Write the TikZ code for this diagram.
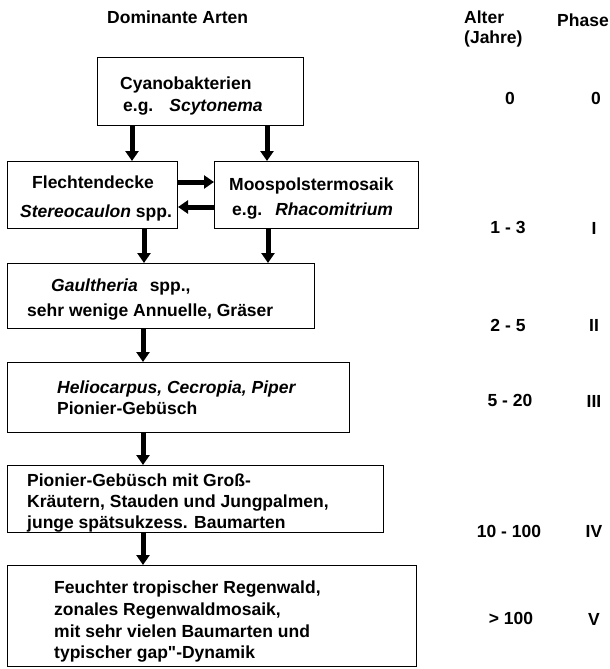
\documentclass[tikz,border=0pt]{standalone}
\usepackage{fontspec}
\setmainfont{Liberation Sans}
\setmonofont{Liberation Sans}
\usetikzlibrary{arrows.meta}
\begin{document}
\begin{tikzpicture}[x=1pt,y=-1pt,
  box/.style={draw=black,line width=1pt,rectangle,inner sep=0pt,anchor=north west},
  txt/.style={anchor=base west,inner sep=0pt,font=\fontsize{17.5}{21}\selectfont\bfseries},
  num/.style={anchor=base,inner sep=0pt,font=\fontsize{17.5}{21}\selectfont\bfseries},
  arr/.style={line width=5pt,-{Triangle[length=10pt,width=13pt]}},
]
\useasboundingbox[fill=white] (0,0) rectangle (610,669);

% boxes
\node[box,minimum width=206,minimum height=68]  (b1) at (97,57) {};
\node[box,minimum width=170,minimum height=67]  (b2) at (7,161) {};
\node[box,minimum width=204,minimum height=67]  (b3) at (214,161) {};
\node[box,minimum width=307,minimum height=65]  (b4) at (7,263) {};
\node[box,minimum width=342,minimum height=70]  (b5) at (7,362) {};
\node[box,minimum width=376,minimum height=67]  (b6) at (7,465) {};
\node[box,minimum width=409,minimum height=101] (b7) at (7,565) {};

% texts in boxes
\node[txt] (t1a) at (120,89) {Cyanobakterien};
\node[txt] (t1b) at (123,111) {e.g.\hspace{16pt}\textit{Scytonema}};
\node[txt] (t2a) at (32,188) {Flechtendecke};
\node[txt] (t2b) at (20,217) {\textit{Stereocaulon} spp.};
\node[txt] (t3a) at (229,190) {Moospolstermosaik};
\node[txt] (t3b) at (232,215) {e.g.\hspace{13pt}\textit{Rhacomitrium}};
\node[txt] (t4a) at (51,291) {\textit{Gaultheria}\hspace{12pt}spp.,};
\node[txt] (t4b) at (27,316) {sehr wenige Annuelle, Gräser};
\node[txt] (t5a) at (57,393) {\textit{Heliocarpus, Cecropia, Piper}};
\node[txt] (t5b) at (57,414) {Pionier-Gebüsch};
\node[txt] (t6a) at (27,486) {Pionier-Gebüsch mit Groß-};
\node[txt] (t6b) at (27,507) {Kräutern, Stauden und Jungpalmen,};
\node[txt] (t6c) at (27,528) {junge spätsukzess. Baumarten};
\node[txt] (t7a) at (54,593) {Feuchter tropischer Regenwald,};
\node[txt] (t7b) at (54,615) {zonales Regenwaldmosaik,};
\node[txt] (t7c) at (54,637) {mit sehr vielen Baumarten und};
\node[txt] (t7d) at (54,658) {typischer gap\texttt{"}-Dynamik};

% headers
\node[txt] (h1) at (107,24) {Dominante Arten};
\node[txt] (h2) at (464,24) {Alter};
\node[txt] (h3) at (464,44) {(Jahre)};
\node[txt] (h4) at (557,27) {Phase};

% ages
\node[num] (a0) at (510,104) {0};
\node[num] (a1) at (508,233) {1 - 3};
\node[num] (a2) at (508,331) {2 - 5};
\node[num] (a3) at (510,406) {5 - 20};
\node[num] (a4) at (509,537) {10 - 100};
\node[num] (a5) at (511,624) {> 100};

% phases
\node[num] (p0) at (596,104) {0};
\node[num] (p1) at (594,234) {I};
\node[num] (p2) at (594,331) {II};
\node[num] (p3) at (594,407) {III};
\node[num] (p4) at (594,537) {IV};
\node[num] (p5) at (594,625) {V};

% arrow positions
\coordinate (xa) at (132,0);
\coordinate (xb) at (267,0);
\coordinate (xc) at (144,0);
\coordinate (xd) at (268,0);
\coordinate (xe) at (143,0);
\coordinate (ya) at (0,182);
\coordinate (yb) at (0,207);

\draw[arr] (b1.south -| xa) -- (b2.north -| xa);
\draw[arr] (b1.south -| xb) -- (b3.north -| xb);
\draw[arr] (b2.east |- ya) -- (b3.west |- ya);
\draw[arr] (b3.west |- yb) -- (b2.east |- yb);
\draw[arr] (b2.south -| xc) -- (b4.north -| xc);
\draw[arr] (b3.south -| xd) -- (b4.north -| xd);
\draw[arr] (b4.south -| xe) -- (b5.north -| xe);
\draw[arr] (b5.south -| xe) -- (b6.north -| xe);
\draw[arr] (b6.south -| xe) -- (b7.north -| xe);
\end{tikzpicture}
\end{document}
